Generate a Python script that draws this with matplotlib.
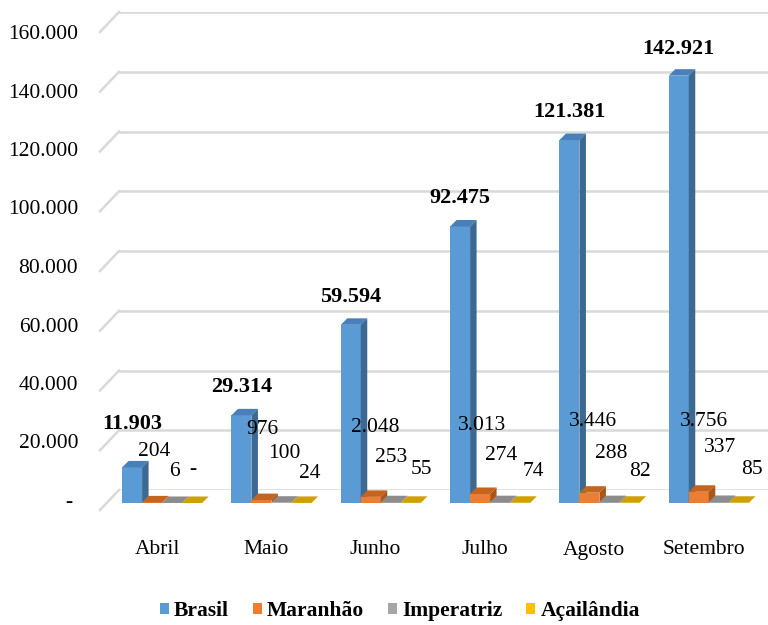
import matplotlib
matplotlib.use("Agg")
import matplotlib.pyplot as plt
from matplotlib.patches import Polygon, Patch
from matplotlib.lines import Line2D
from matplotlib.transforms import IdentityTransform

# ---------------- data ----------------
categories = ["Abril", "Maio", "Junho", "Julho", "Agosto", "Setembro"]
brasil = [11903, 29314, 59594, 92475, 121381, 142921]
maranhao = [204, 976, 2048, 3013, 3446, 3756]
imperatriz = [6, 100, 253, 274, 288, 337]
acailandia = [0, 24, 55, 74, 82, 85]
series_names = ["Brasil", "Maranhão", "Imperatriz", "Açailândia"]
y_ticks = [0, 20000, 40000, 60000, 80000, 100000, 120000, 140000, 160000]

# ---------------- style ----------------
front_colors = ["#5B9BD5", "#ED7D31", "#A5A5A5", "#FFC000"]
top_colors = ["#4A80B9", "#C5631F", "#8C8C8C", "#CFA000"]
side_colors = ["#3C6891", "#A9561C", "#7A7A7A", "#B38A00"]
bar_offsets = [-0.228, -0.045, 0.138, 0.321]
bar_width = 0.183
depth = 6.5  # pixels

# label offsets in pixels
bra_off = [43, 28, 28, 28, 28, 27]
mar_off = [(-3, 51), (-4, 73), (0, 75), (-3, 78), (-1, 81), (0, 81)]
imp_off = [(17, 31), (18, 49), (15, 46), (16, 48), (17, 50), (16, 56)]
aca_off = [(36, 33), (43, 30), (46, 34), (48, 31), (46, 31), (48, 33)]

W, H, DPI = 768, 625, 100
plt.rcParams['font.family'] = ['Liberation Serif', 'DejaVu Serif']

fig = plt.figure(figsize=(W / DPI, H / DPI), dpi=DPI)
fig.patch.set_facecolor("white")


def fx(px):
    return px / W


def fy(py):
    return 1 - py / H


def fmt(v):
    return "-" if v == 0 else f"{v:,}".replace(",", ".")


# back wall with gridlines
ax_back = fig.add_axes([fx(119), fy(490), fx(768 - 119), 478 / H])
ax_back.set_xlim(0, 1)
ax_back.set_ylim(0, 160000)
ax_back.set_yticks(y_ticks)
ax_back.set_xticks([])
ax_back.tick_params(left=False, labelleft=False)
ax_back.grid(axis='y', color='#d9d9d9', lw=1.8)
for s in ax_back.spines.values():
    s.set_visible(False)
ax_back.patch.set_alpha(0)

# label axis (front-left edge)
ax_lab = fig.add_axes([fx(78), fy(500), 0.0001, 468 / H])
ax_lab.set_ylim(0, 160000)
ax_lab.set_yticks(y_ticks)
ax_lab.set_yticklabels([fmt(v) + (" " if v == 0 else "") for v in y_ticks], fontsize=15.5)
ax_lab.tick_params(axis='y', length=0, pad=0)
ax_lab.set_xticks([])
for s in ax_lab.spines.values():
    s.set_visible(False)
ax_lab.patch.set_alpha(0)

# front axis with bars
ax = fig.add_axes([fx(102.35), fy(503), fx(656), 478.4 / H])
ax.set_xlim(-0.5, 5.5)
ax.set_ylim(0, 160000)
ax.patch.set_alpha(0)
for s in ax.spines.values():
    s.set_visible(False)
ax.set_yticks([])
ax.set_xticks(range(len(categories)))
ax.set_xticklabels(categories, fontsize=15.5)
ax.tick_params(axis='x', length=0, pad=27)

# diagonal gridline connectors
for v in y_ticks:
    yb = ax_back.transData.transform((0, v))[1]
    fig.add_artist(Line2D([100, 119], [yb - 20, yb], color='#d9d9d9', lw=1.8,
                          transform=IdentityTransform()))

all_series = [brasil, maranhao, imperatriz, acailandia]
fig.canvas.draw()
T = ax.transData
for k, vals in enumerate(all_series):
    xs = [i + bar_offsets[k] for i in range(len(vals))]
    bars = ax.bar(xs, vals, width=bar_width, color=front_colors[k], zorder=3 + k,
                  linewidth=0)
    for b in bars:
        x0, x1 = b.get_x(), b.get_x() + b.get_width()
        h = b.get_height()
        (px0, py0), (px1, ph) = T.transform((x0, 0)), T.transform((x1, h))
        top = Polygon([(px0, ph), (px1, ph), (px1 + depth, ph + depth), (px0 + depth, ph + depth)],
                      closed=True, facecolor=top_colors[k], edgecolor='none',
                      transform=IdentityTransform(), zorder=3 + k, clip_on=False)
        side = Polygon([(px1, py0), (px1, ph), (px1 + depth, ph + depth), (px1 + depth, py0 + depth)],
                       closed=True, facecolor=side_colors[k], edgecolor='none',
                       transform=IdentityTransform(), zorder=3 + k, clip_on=False)
        ax.add_patch(top)
        ax.add_patch(side)

# labels
for i, v in enumerate(brasil):
    ax.annotate(fmt(v), xy=(i + bar_offsets[0], v), xytext=(0, bra_off[i]),
                textcoords='offset pixels', ha='center', va='center',
                fontsize=16, fontweight='bold', zorder=10)

for vals, offs in [(maranhao, mar_off), (imperatriz, imp_off), (acailandia, aca_off)]:
    for i, v in enumerate(vals):
        ax.annotate(fmt(v), xy=(i, 0), xytext=offs[i], textcoords='offset pixels',
                    ha='center', va='center', fontsize=15.5, zorder=10)

# legend
handles = [Patch(facecolor=c, edgecolor='none') for c in front_colors]
fig.legend(handles, series_names, loc='center', bbox_to_anchor=(fx(400), fy(611)),
           ncol=4, frameon=False, handlelength=0.42, handleheight=0.42,
           handletextpad=0.25, columnspacing=1.1,
           prop={'family': 'Liberation Serif', 'weight': 'bold', 'size': 15.5})

fig.savefig("out.png", dpi=DPI, facecolor="white")
